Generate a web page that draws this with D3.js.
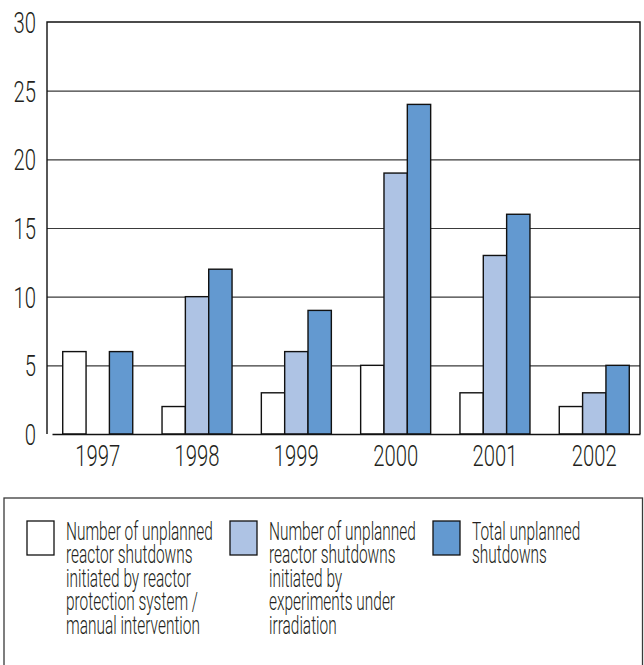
<!DOCTYPE html>
<html>
<head>
<meta charset="utf-8">
<script src="https://cdn.jsdelivr.net/npm/d3@7"></script>
<style>
  html, body { margin: 0; padding: 0; background: #fff; }
  svg { display: block; }
  text { font-family: Roboto, "DejaVu Sans Condensed", sans-serif; font-weight: 300; fill: #231f20; }
</style>
</head>
<body>
<svg id="chart" width="644" height="665"></svg>
<script>
// Unplanned reactor shutdowns per year
const years = ["1997", "1998", "1999", "2000", "2001", "2002"];
const protectionSystem = [6, 2, 3, 5, 3, 2];
const experiments = [0, 10, 6, 19, 13, 3];
const totalShutdowns = [6, 12, 9, 24, 16, 5];
const yTicks = [0, 5, 10, 15, 20, 25, 30];

const seriesNames = ["protection", "experiments", "total"];
const seriesValues = [protectionSystem, experiments, totalShutdowns];
const seriesColors = ["#ffffff", "#aec3e4", "#6399d0"];
const legendLines = [
  ["Number of unplanned", "reactor shutdowns", "initiated by reactor", "protection system /", "manual intervention"],
  ["Number of unplanned", "reactor shutdowns", "initiated by", "experiments under", "irradiation"],
  ["Total unplanned", "shutdowns"]
];

const svg = d3.select("#chart");
const frame = { left: 47, right: 640, top: 22, bottom: 434 };
const numSize = 29.5;
const legSize = 25.5;

// condensed look: squeeze the installed font horizontally to a set width
function squeezeFor(sample, size, targetWidth) {
  const t = svg.append("text").attr("font-size", size).text(sample);
  const w = t.node().getComputedTextLength();
  t.remove();
  return w > 0 ? Math.min(1, targetWidth / w) : 1;
}
const numScaleX = squeezeFor("1997", numSize, 45);
const legScaleX = squeezeFor("Number of unplanned", legSize, 147);

const x = d3.scaleBand()
  .domain(years)
  .range([frame.left + 5, frame.right])
  .paddingInner(0.295)
  .paddingOuter(0.108);

const xs = d3.scaleBand()
  .domain(seriesNames)
  .range([0, x.bandwidth()])
  .padding(0);

const y = d3.scaleLinear()
  .domain([0, 30])
  .range([frame.bottom, frame.top]);

// horizontal grid lines
svg.append("g")
  .attr("transform", `translate(${frame.left},0)`)
  .call(d3.axisLeft(y).tickValues(yTicks.slice(1, -1)).tickSize(-(frame.right - frame.left)).tickFormat(""))
  .call(g => g.select(".domain").remove())
  .call(g => g.selectAll("line").attr("stroke", "#3a3a3a").attr("stroke-width", 1.1));

// bars
const rows = years.map((yr, i) => ({
  year: yr,
  values: seriesNames.map((s, k) => ({ key: s, value: seriesValues[k][i], color: seriesColors[k] }))
}));

svg.append("g")
  .selectAll("g")
  .data(rows)
  .join("g")
  .attr("transform", d => `translate(${x(d.year)},0)`)
  .selectAll("rect")
  .data(d => d.values.filter(v => v.value > 0))
  .join("rect")
  .attr("x", d => xs(d.key))
  .attr("width", xs.bandwidth())
  .attr("y", d => y(d.value))
  .attr("height", d => y(0) - y(d.value))
  .attr("fill", d => d.color)
  .attr("stroke", "#111")
  .attr("stroke-width", 1.4);

// plot frame
svg.append("path")
  .attr("d", `M${frame.left},${frame.bottom}V${frame.top}H${frame.right}V${frame.bottom}`)
  .attr("fill", "none")
  .attr("stroke", "#111")
  .attr("stroke-width", 1.4);

// y axis labels
svg.append("g")
  .attr("transform", `translate(${frame.left},0)`)
  .call(d3.axisLeft(y).tickValues(yTicks).tickSize(0).tickPadding(11))
  .call(g => g.select(".domain").remove())
  .call(g => g.selectAll("text")
    .attr("font-size", numSize)
    .attr("font-family", null)
    .attr("fill", "#231f20")
    .attr("transform", `scale(${numScaleX},1)`)
    .attr("x", -11 / numScaleX)
    .attr("dy", "0.35em"));

// x axis with year labels
svg.append("g")
  .attr("transform", `translate(0,${frame.bottom})`)
  .call(d3.axisBottom(x).tickSize(0).tickPadding(11))
  .call(g => g.select(".domain").attr("stroke", "#111").attr("stroke-width", 1.4))
  .call(g => g.selectAll("text")
    .attr("font-size", numSize)
    .attr("font-family", null)
    .attr("fill", "#231f20")
    .attr("transform", `scale(${numScaleX},1)`)
    .attr("dy", "0.71em"));

// legend box
svg.append("rect")
  .attr("x", 4).attr("y", 498)
  .attr("width", 638.5).attr("height", 220)
  .attr("fill", "none")
  .attr("stroke", "#3a3a3a")
  .attr("stroke-width", 1.3);

const legendCols = [27, 230, 433];
const legend = svg.append("g");
legendCols.forEach((lx, k) => {
  legend.append("rect")
    .attr("x", lx).attr("y", 521)
    .attr("width", 27).attr("height", 34)
    .attr("fill", seriesColors[k])
    .attr("stroke", "#111")
    .attr("stroke-width", 1.3);
  legend.append("g")
    .selectAll("text")
    .data(legendLines[k])
    .join("text")
    .attr("transform", (d, i) => `translate(${lx + 39},${540 + i * 23.4}) scale(${legScaleX},1)`)
    .attr("font-size", legSize)
    .text(d => d);
});
</script>
</body>
</html>
